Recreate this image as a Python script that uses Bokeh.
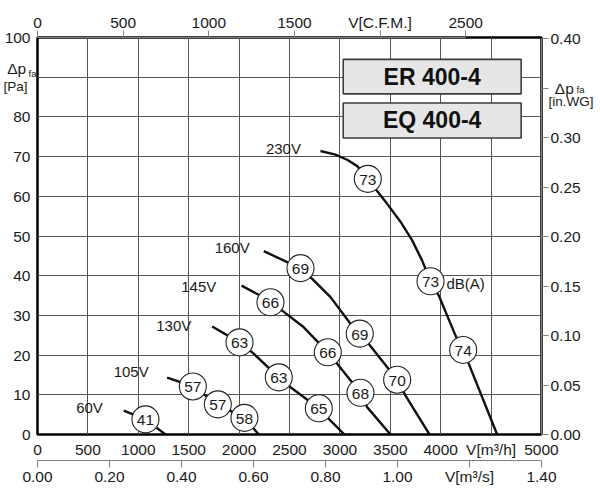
from bokeh.plotting import figure
from bokeh.models import (LinearAxis, Range1d, FixedTicker, Label, PrintfTickFormatter,
                          BoxAnnotation, ColumnDataSource)
from bokeh.core.properties import value
from bokeh.embed import file_html
from bokeh.resources import INLINE

FONT = "Liberation Sans"
TXT = "#1a1a1a"

# ---------------- data: V [m3/h] vs dp_fa [Pa] ----------------
v230_flow = [2807, 2956, 3072, 3172, 3277, 3363, 3469, 3601, 3717, 3816, 3899, 3981, 4147, 4223, 4279, 4560]
v230_pres = [71.4, 70.5, 69.2, 67.6, 64.4, 61.5, 58.1, 53.6, 48.9, 43.8, 38.6, 35.0, 24.9, 21.3, 17.8, 0.0]
v160_flow = [2245, 2477, 2609, 2725, 2907, 3105, 3197, 3287, 3568, 3651, 3889]
v160_pres = [46.2, 43.4, 41.9, 39.2, 34.6, 27.9, 25.4, 22.8, 13.8, 9.8, 0.0]
v145_flow = [2024, 2180, 2311, 2427, 2642, 2880, 2973, 3204, 3270, 3502]
v145_pres = [37.5, 35.4, 33.3, 31.2, 27.0, 20.7, 17.8, 10.5, 6.9, 0.0]
v130_flow = [1733, 2004, 2130, 2394, 2510, 2791, 2907, 3045]
v130_pres = [27.2, 23.2, 20.7, 14.4, 11.9, 6.6, 3.5, 0.0]
v105_flow = [1286, 1541, 1789, 2053, 2195]
v105_pres = [14.3, 12.1, 7.6, 4.2, 0.0]
v60_flow = [856, 1071, 1270]
v60_pres = [6.0, 3.8, 0.0]

curve_names = ["230V", "160V", "145V", "130V", "105V", "60V"]
curve_flows = [v230_flow, v160_flow, v145_flow, v130_flow, v105_flow, v60_flow]
curve_press = [v230_pres, v160_pres, v145_pres, v130_pres, v105_pres, v60_pres]

# sound level markers, dB(A)
db_flow = [3277, 3899, 4223, 2609, 3197, 3568, 2311, 2880, 3204, 2004, 2394, 2791, 1541, 1789, 2053, 1071]
db_pres = [64.4, 38.6, 21.3, 41.9, 25.4, 13.8, 33.3, 20.7, 10.5, 23.2, 14.4, 6.6, 12.1, 7.6, 4.2, 3.8]
db_vals = ["73", "73", "74", "69", "69", "70", "66", "66", "68", "63", "63", "65", "57", "57", "58", "41"]

# axis ticks
flow_ticks = [0, 500, 1000, 1500, 2000, 2500, 3000, 3500, 4000, 4500, 5000]
pres_ticks = [0, 10, 20, 30, 40, 50, 60, 70, 80, 90, 100]
cfm_ticks = [0, 500, 1000, 1500, 2000, 2500]
ms_ticks = [0, 0.2, 0.4, 0.6, 0.8, 1.0, 1.2, 1.4]
inwg_ticks = [0, 0.05, 0.1, 0.15, 0.2, 0.25, 0.3, 0.35, 0.4]

models = ["ER 400-4", "EQ 400-4"]

# ---------------- layout constants (annotation positions) ----------------
curve_label_pos = [(2440, 72.0), (1931, 47.0), (1600, 37.3), (1352, 27.5), (929, 15.9), (516, 6.9)]
model_boxes = [(3033, 4798, 94.5, 85.8), (3033, 4798, 83.5, 74.7)]
# vertical positions (in Pa) of the axis-title pieces
LEFT_DP_Y, LEFT_SUB_Y, LEFT_UNIT_Y = 92.3, 90.9, 87.7
RIGHT_SUB_Y, RIGHT_UNIT_Y = 86.9, 83.9

TICK_FS = "15.5px"

p = figure(width=600, height=500,
           x_range=Range1d(0, 5000), y_range=Range1d(0, 100),
           output_backend="svg", toolbar_location=None,
           min_border_left=37, min_border_top=37, min_border_right=59, min_border_bottom=66,
           background_fill_color="white", border_fill_color="white")
p.outline_line_color = "black"
p.outline_line_width = 2.5

p.extra_x_ranges = {"cfm": Range1d(0, 5000 / 1.699), "ms": Range1d(0, 1.4)}
p.extra_y_ranges = {"inwg": Range1d(0, 100 / 249.09)}


def style_axis(ax, fs=TICK_FS):
    ax.major_label_text_font = FONT
    ax.major_label_text_font_size = fs
    ax.major_label_text_color = TXT
    ax.minor_tick_line_color = None
    ax.minor_tick_out = 0
    ax.minor_tick_in = 0
    ax.major_tick_in = 0


def spacer(n):
    # invisible axis that only reserves n pixels of room
    return LinearAxis(ticker=FixedTicker(ticks=[]), major_tick_out=n, major_tick_in=0,
                      major_tick_line_color=None, minor_tick_line_color=None, minor_tick_out=0,
                      minor_tick_in=0, axis_line_color=None, major_label_standoff=0)


def text_axis(tick, text, fs, standoff, **kw):
    # label-only axis used for the axis titles outside the frame
    ax = LinearAxis(ticker=FixedTicker(ticks=[tick]), major_label_overrides={tick: text},
                    major_tick_out=0, major_tick_line_color=None, axis_line_color=None,
                    major_label_standoff=standoff, **kw)
    style_axis(ax, fs)
    return ax


# main x axis (m3/h)
xa = p.xaxis[0]
xa.ticker = FixedTicker(ticks=flow_ticks)
xa.major_label_overrides = {4500: "V[m³/h]"}
style_axis(xa)
xa.major_tick_out = 0
xa.major_tick_line_color = None
xa.axis_line_color = None
xa.major_label_standoff = 6

# main y axis (Pa) + axis title pieces
ya = p.yaxis[0]
ya.ticker = FixedTicker(ticks=[t for t in pres_ticks if t != 90] + [LEFT_DP_Y])
ya.major_label_overrides = {LEFT_DP_Y: "Δp\u00a0"}
style_axis(ya)
ya.major_tick_out = 0
ya.major_tick_line_color = None
ya.axis_line_color = None
ya.major_label_standoff = -5

left_sub = text_axis(LEFT_SUB_Y, "fa", "9.5px", 1)
left_unit = text_axis(LEFT_UNIT_Y, "[Pa]", "13.5px", -26)
p.left = [left_sub, ya, left_unit]

p.xgrid.ticker = FixedTicker(ticks=flow_ticks)
p.ygrid.ticker = FixedTicker(ticks=pres_ticks)
p.xgrid.grid_line_color = "#555555"
p.ygrid.grid_line_color = "#555555"
p.xgrid.grid_line_width = 1
p.ygrid.grid_line_width = 1

AXC = "#808080"

# below: spacer + m3/s axis
p.add_layout(spacer(12), "below")
ms = LinearAxis(x_range_name="ms", ticker=FixedTicker(ticks=ms_ticks),
                formatter=PrintfTickFormatter(format="%.2f"))
ms.major_label_overrides = {1.2: "V[m³/s]"}
style_axis(ms)
ms.major_tick_out = 7
ms.major_label_standoff = 0
ms.axis_line_color = AXC
ms.major_tick_line_color = AXC
p.add_layout(ms, "below")

# above: spacer + CFM axis
p.add_layout(spacer(11), "above")
cfm = LinearAxis(x_range_name="cfm", ticker=FixedTicker(ticks=cfm_ticks), bounds=(0, 2500))
cfm.major_label_overrides = {2000: "V[C.F.M.]"}
style_axis(cfm)
cfm.major_tick_out = 7
cfm.major_label_standoff = 0
cfm.axis_line_color = AXC
cfm.major_tick_line_color = AXC
p.add_layout(cfm, "above")

# right: spacer + in.WG axis + axis title pieces
p.add_layout(spacer(10), "right")
inwg = LinearAxis(y_range_name="inwg", ticker=FixedTicker(ticks=inwg_ticks),
                  formatter=PrintfTickFormatter(format="%.2f"), bounds=(0, 0.4))
inwg.major_label_overrides = {0.35: "\u00a0Δp"}
style_axis(inwg)
inwg.major_tick_out = 7
inwg.major_label_standoff = 2
inwg.axis_line_color = AXC
inwg.major_tick_line_color = AXC
p.add_layout(inwg, "right")
p.add_layout(text_axis(RIGHT_SUB_Y, "fa", "9.5px", -7), "right")
p.add_layout(text_axis(RIGHT_UNIT_Y, "[in.WG]", "13.5px", -39), "right")

# ---------------- curves ----------------
for fl, pr in zip(curve_flows, curve_press):
    p.line(fl, pr, line_color="#111111", line_width=2.4)

src = ColumnDataSource(dict(x=db_flow, y=db_pres, t=db_vals))
p.scatter("x", "y", source=src, size=27, fill_color="white", line_color="#222222", line_width=1.1)
p.text("x", "y", text="t", source=src, text_align="center", text_baseline="middle",
       text_font=value(FONT), text_font_size="15.5px", text_color=TXT, y_offset=1)

for name, (lx, ly) in zip(curve_names, curve_label_pos):
    p.add_layout(Label(x=lx, y=ly, text=name, text_align="center", text_baseline="middle",
                       text_font=FONT, text_font_size="15px", text_color=TXT))

p.add_layout(Label(x=4057, y=38.1, text="dB(A)", text_align="left", text_baseline="middle",
                   text_font=FONT, text_font_size="15px", text_color=TXT))

# model boxes
for (l, r, t, b), name in zip(model_boxes, models):
    p.add_layout(BoxAnnotation(left=l, right=r, top=t, bottom=b, fill_color="#e6e6e6", fill_alpha=1,
                               line_color="#3c3c3c", line_width=1.6, line_alpha=1))
    p.add_layout(Label(x=(l + r) / 2, y=(t + b) / 2, text=name, text_align="center",
                       text_baseline="middle", text_font=FONT, text_font_size="23px",
                       text_font_style="bold", text_color="#111111"))

open("out.html", "w").write(file_html(p, INLINE))
